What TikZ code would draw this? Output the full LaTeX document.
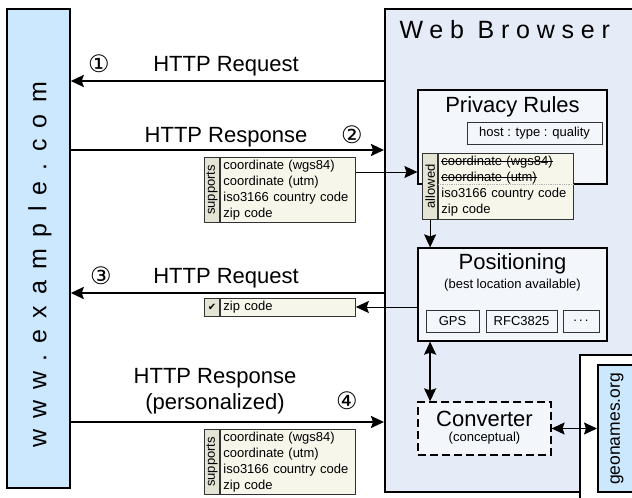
\documentclass[tikz,border=0pt]{standalone}
\usepackage{fontspec}
\usepackage{tikz}
\setmainfont{Liberation Sans}
\newfontfamily\symfont{DejaVu Sans}
\usetikzlibrary{arrows.meta,positioning}

\definecolor{siteblue}{HTML}{CCE8FF}
\definecolor{browserbg}{HTML}{E6ECF7}
\definecolor{modulebg}{HTML}{F3F6FB}
\definecolor{listbg}{HTML}{F6F6EA}
\definecolor{tagbg}{HTML}{E4E4D4}

\newcommand{\hugefont}{\fontsize{25}{30}\selectfont}
\newcommand{\bigfont}{\fontsize{22}{26}\selectfont}
\newcommand{\midfont}{\fontsize{17.5}{21}\selectfont}
\newcommand{\smallfont}{\fontsize{13}{16}\selectfont}
\newcommand{\stepnum}[1]{{\symfont\fontsize{24}{26}\selectfont #1}}
\newcommand{\crossout}[1]{\leavevmode\setbox0\hbox{#1}\rlap{\rule[0.3em]{\wd0}{0.8pt}}\box0}

\tikzset{
  sitebox/.style={draw, line width=1.5pt, fill=siteblue},
  browserbox/.style={draw, line width=2pt, fill=browserbg},
  module/.style={draw, line width=1.2pt, fill=modulebg},
  subbox/.style={draw=black!80, line width=1pt, fill=modulebg, font=\smallfont, minimum height=22pt, inner sep=0pt},
  listbox/.style={draw=black!80, line width=0.8pt, fill=listbg, align=left, font=\smallfont, text width=129pt, inner xsep=3pt, inner ysep=2pt, anchor=north west, minimum height=65pt},
  tagbox/.style={draw=black!80, line width=0.8pt, fill=tagbg, rotate=90, font=\smallfont, inner sep=0pt, minimum height=15pt, anchor=south},
  msg/.style={line width=2pt},
  link/.style={line width=1pt},
}

\begin{document}
\begin{tikzpicture}[x=1pt, y=-1pt, >={Stealth[length=13pt,width=12pt,inset=2pt]}]
  \useasboundingbox (0,0) rectangle (632,498);
  \clip (0,0) rectangle (632,498);

  % Web site
  \node[sitebox, minimum width=63pt, minimum height=479pt] (site) at (38.5,248.5) {};
  \node[rotate=90, font=\hugefont\addfontfeature{LetterSpace=45}] (sitename) at (40,265) {www.example.com};

  % Browser
  \node[browserbox, anchor=north west, minimum width=270pt, minimum height=483pt] (browser) at (384,8) {};
  \node[anchor=west, font=\hugefont\addfontfeature{LetterSpace=27}] (browsertitle) at (396,30) {Web Browser};

  % Privacy rules
  \node[module, minimum width=189pt, minimum height=94pt] (privacy) at (512.5,137) {};
  \node[font=\bigfont] (privacytitle) at (512.5,107) {Privacy Rules};
  \node[subbox, minimum width=135pt] (rulefmt) at (534.5,133) {host : type : quality};
  \node[listbox, minimum height=66pt] (allowed) at (438,153) {\crossout{coordinate (wgs84)}\\\crossout{coordinate (utm)}\\iso3166 country code\\zip code};
  \node[tagbox, minimum width=66pt] (allowedtag) at (allowed.west) {allowed};
  \draw[gray!60, densely dotted, line width=0.8pt] ([yshift=-31pt]allowed.north west) -- ([yshift=-31pt]allowed.north east);

  % Positioning
  \node[module, minimum width=189pt, minimum height=93pt] (positioning) at (512.5,294.5) {};
  \node[font=\bigfont] (postitle) at (512.5,264) {Positioning};
  \node[font=\smallfont] (possub) at (512.5,285) {(best location available)};
  \node[subbox, minimum width=53pt] (gps) at (452.5,321) {GPS};
  \node[subbox, minimum width=71pt] (rfc) at (521.5,321) {RFC3825};
  \node[subbox, minimum width=36pt] (more) at (581,321) {.\,.\,.};

  % Converter
  \node[module, dash pattern=on 8pt off 4pt, minimum width=133pt, minimum height=53pt] (converter) at (484.5,428.5) {};
  \node[font=\bigfont] (convtitle) at (484.5,419) {Converter};
  \node[font=\smallfont] (convsub) at (484.5,438) {(conceptual)};

  % geonames
  \node[draw, fill=white, line width=2pt, anchor=north west, minimum width=90pt, minimum height=170pt] (external) at (579,354) {};
  \node[sitebox, anchor=north west, minimum width=60pt, minimum height=127pt] (geonames) at (597,364) {};
  \node[rotate=90, font=\midfont] (geonamesname) at (617,429) {geonames.org};

  % Messages
  \coordinate (m1) at (0,81);
  \coordinate (m2) at (0,150);
  \coordinate (m3) at (0,293);
  \coordinate (m4) at (0,422);
  \draw[msg, ->] (browser.west |- m1) -- (site.east |- m1);
  \draw[msg, ->] (site.east |- m2) -- (browser.west |- m2);
  \draw[msg, ->] (browser.west |- m3) -- (site.east |- m3);
  \draw[msg, ->] (site.east |- m4) -- (browser.west |- m4);
  \node[font=\bigfont] (req1) at (226,66) {HTTP Request};
  \node[font=\bigfont] (resp1) at (226,137) {HTTP Response};
  \node[font=\bigfont] (req2) at (226,278) {HTTP Request};
  \node[font=\bigfont, align=center] (resp2) at (215,391) {HTTP Response\\(personalized)};
  \node (num1) at (99,64) {\stepnum{①}};
  \node (num2) at (352,135) {\stepnum{②}};
  \node (num3) at (101,276) {\stepnum{③}};
  \node (num4) at (347,401) {\stepnum{④}};

  % Capabilities
  \node[listbox] (offer1) at (220,157) {coordinate (wgs84)\\coordinate (utm)\\iso3166 country code\\zip code};
  \node[tagbox, minimum width=65pt] (offer1tag) at (offer1.west) {supports};
  \node[listbox, minimum height=18pt] (chosen) at (220,298) {zip code};
  \node[draw=black!80, line width=0.8pt, fill=tagbg, anchor=east, minimum width=15pt, minimum height=18pt, inner sep=0pt, font=\symfont\fontsize{10}{12}\selectfont] (chosentag) at (chosen.west) {✔};
  \node[listbox] (offer2) at (220,429) {coordinate (wgs84)\\coordinate (utm)\\iso3166 country code\\zip code};
  \node[tagbox, minimum width=65pt] (offer2tag) at (offer2.west) {supports};

  % Links
  \coordinate (feed) at (0,172);
  \coordinate (pick) at (0,307);
  \draw[link, ->] (offer1.east |- feed) -- (privacy.west |- feed);
  \draw[link, ->] (allowedtag.west) -- (allowedtag.west |- positioning.north);
  \draw[link, ->] (positioning.west |- pick) -- (chosen.east |- pick);
  \draw[msg, <->] (allowedtag.west |- positioning.south) -- (allowedtag.west |- converter.north);
  \draw[link, line width=1.5pt, <->] (converter.east) -- (geonames.west |- converter.east);
\end{tikzpicture}
\end{document}
